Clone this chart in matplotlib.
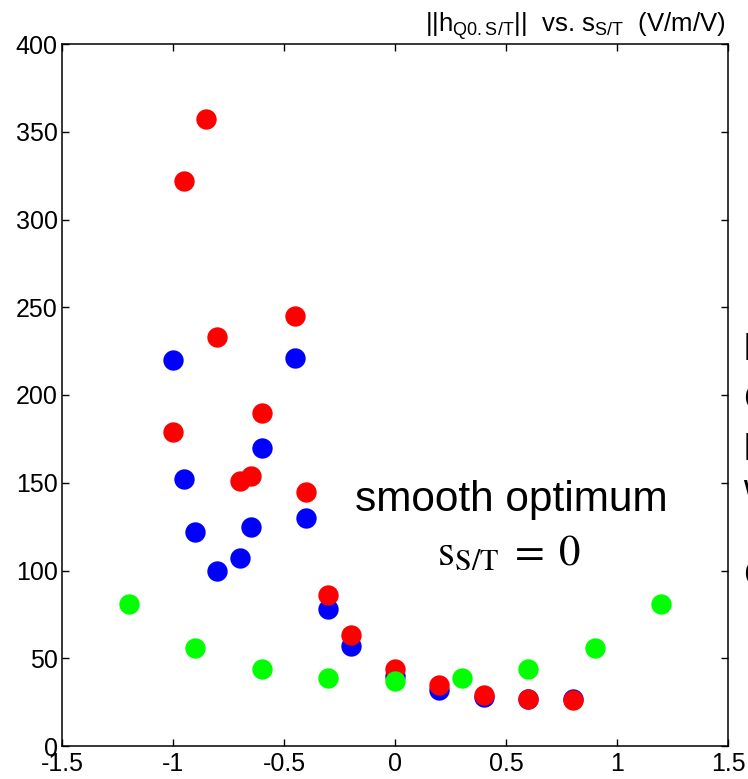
import matplotlib
matplotlib.use("Agg")
import matplotlib.pyplot as plt

plt.rcParams['font.family'] = ['Liberation Sans', 'DejaVu Sans']
plt.rcParams['axes.unicode_minus'] = False
plt.rcParams['mathtext.fontset'] = 'custom'
plt.rcParams['mathtext.rm'] = 'Liberation Sans'
plt.rcParams['mathtext.it'] = 'Liberation Sans'

# data
blue_x = [-1.0, -0.95, -0.9, -0.8, -0.7, -0.65, -0.6, -0.45, -0.4, -0.3, -0.2, 0.0, 0.2, 0.4, 0.6, 0.8]
blue_y = [220, 152, 122, 100, 107, 125, 170, 221, 130, 78, 57, 40, 32, 28, 27, 27]
red_x = [-1.0, -0.95, -0.85, -0.8, -0.7, -0.65, -0.6, -0.45, -0.4, -0.3, -0.2, 0.0, 0.2, 0.4, 0.6, 0.8]
red_y = [179, 322, 357, 233, 151, 154, 190, 245, 145, 86, 63, 44, 35, 29, 27, 26]
green_x = [-1.2, -0.9, -0.6, -0.3, 0.0, 0.3, 0.6, 0.9, 1.2]
green_y = [81, 56, 44, 39, 37, 39, 44, 56, 81]

x_ticks = [-1.5, -1, -0.5, 0, 0.5, 1, 1.5]
x_labels = ['-1.5', '-1', '-0.5', '0', '0.5', '1', '1.5']
y_ticks = [0, 50, 100, 150, 200, 250, 300, 350, 400]

W, H = 748, 779
fig = plt.figure(figsize=(W / 100, H / 100), dpi=100)
ax = fig.add_axes([62 / W, 1 - 746 / H, (728 - 62) / W, (746 - 44) / H])

ms = 215
ax.scatter(blue_x, blue_y, s=ms, color='#0000ff', zorder=3, linewidths=0)
ax.scatter(red_x, red_y, s=ms, color='#ff0000', zorder=4, linewidths=0)
ax.scatter(green_x, green_y, s=ms, color='#00ff00', zorder=5, linewidths=0)

ax.set_xlim(-1.5, 1.5)
ax.set_ylim(0, 400)
ax.set_xticks(x_ticks)
ax.set_xticklabels(x_labels)
ax.set_yticks(y_ticks)
ax.tick_params(direction='in', length=5, width=1, top=True, right=True,
               labelsize=18, pad=4)
ax.tick_params(axis='y', pad=3)
for sp in ax.spines.values():
    sp.set_linewidth(1.1)

fig.text(725 / W, 1 - 32 / H,
         r'$||\mathrm{h}_{\mathrm{Q0.S/T}}||$  vs. $\mathrm{s}_{\mathrm{S/T}}$  (V/m/V)',
         ha='right', va='baseline', fontsize=18.5)

ax.text(511 / W, 1 - 500 / H, 'smooth optimum', transform=fig.transFigure,
        ha='center', va='center', fontsize=30.5)
ax.text(509 / W, 1 - 554 / H, r'$\mathrm{s}_{\mathrm{S/T}}\;=\;0$', transform=fig.transFigure,
        ha='center', va='center', fontsize=31, math_fontfamily='stix')

# partially visible text at right edge
for ch, yy in zip(['l', 'C', 'l', 'w', 'C'], [350, 400, 451, 490, 577]):
    fig.text(743.5 / W, 1 - yy / H, ch, ha='left', va='center', fontsize=26)

fig.savefig('out.png', dpi=100)
